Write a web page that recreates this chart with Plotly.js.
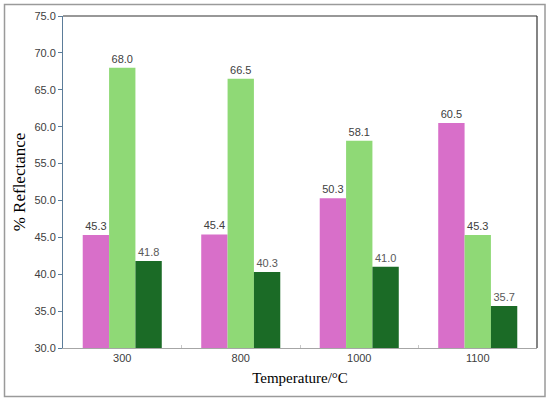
<!DOCTYPE html>
<html>
<head>
<meta charset="utf-8">
<script src="https://cdn.plot.ly/plotly-3.0.1.min.js"></script>
<style>html,body{margin:0;padding:0;background:#fff;}#chart{width:550px;height:402px;}</style>
</head>
<body>
<div id="chart"></div>
<script>
var categories = ["300", "800", "1000", "1100"];
var seriesA = [45.3, 45.4, 50.3, 60.5];
var seriesB = [68.0, 66.5, 58.1, 45.3];
var seriesC = [41.8, 40.3, 41.0, 35.7];
var yTicks = [30, 35, 40, 45, 50, 55, 60, 65, 70, 75];
var yTickText = yTicks.map(function(v){ return v.toFixed(1); });

function bar(vals, color, textColor) {
  return {
    type: "bar", x: categories, y: vals,
    marker: {color: color, line: {width: 0}},
    texttemplate: "%{y:.1f}", textposition: "outside",
    textfont: {family: "Liberation Sans, Arial, sans-serif", size: 11, color: textColor},
    cliponaxis: false, hoverinfo: "skip"
  };
}

var data = [
  bar(seriesA, "#D86FC9", "#404040"),
  bar(seriesB, "#8FD976", "#404040"),
  bar(seriesC, "#1B6B26", "#595959")
];

var layout = {
  width: 550, height: 402,
  margin: {l: 63, r: 13, t: 16, b: 54},
  paper_bgcolor: "#fff", plot_bgcolor: "#fff",
  showlegend: false,
  barmode: "group", bargap: 0.333, bargroupgap: 0,
  font: {family: "Liberation Sans, Arial, sans-serif", size: 11, color: "#404040"},
  xaxis: {
    type: "category", tickson: "boundaries", ticks: "inside", ticklen: 3, tickcolor: "#c8c8c8",
    showline: true, linecolor: "#a6a6a6", linewidth: 1, showgrid: false, zeroline: false,
    tickfont: {size: 11, color: "#404040"},
    title: {text: "Temperature/°C", font: {family: "Liberation Serif, Times New Roman, serif", size: 15, color: "#000"}, standoff: 9}
  },
  yaxis: {
    range: [30, 75], tickvals: yTicks, ticktext: yTickText,
    ticks: "outside", ticklen: 4, tickcolor: "#5b7c99",
    showline: true, linecolor: "#5b7c99", linewidth: 1, showgrid: false, zeroline: false,
    tickfont: {size: 11, color: "#404040"},
    title: {text: "% Reflectance", font: {family: "Liberation Serif, Times New Roman, serif", size: 17, color: "#000"}, standoff: 4}
  },
  shapes: [
    {type: "line", xref: "paper", yref: "paper", x0: 0, x1: 1, y0: 1, y1: 1, line: {color: "#333", width: 1.2}},
    {type: "line", xref: "paper", yref: "paper", x0: 1, x1: 1, y0: 0, y1: 1, line: {color: "#333", width: 1.2}},
    {type: "rect", xref: "paper", yref: "paper", x0: -0.1234, x1: 1.0169, y0: -0.146, y1: 1.0346, line: {color: "#9a9a9a", width: 1.5}}
  ]
};

Plotly.newPlot("chart", data, layout, {displayModeBar: false, staticPlot: true});
</script>
</body>
</html>
